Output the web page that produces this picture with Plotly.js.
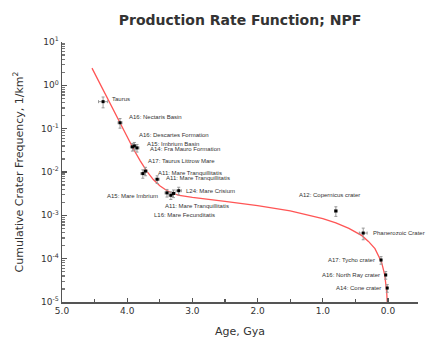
<!DOCTYPE html>
<html>
<head>
<meta charset="utf-8">
<script src="https://cdn.plot.ly/plotly-3.0.1.min.js"></script>
<style>html,body{margin:0;padding:0;background:#fff;}#chart{width:427px;height:342px;}</style>
</head>
<body>
<div id="chart"></div>
<script>
// Sample labels, ages (Gya) and cumulative crater frequencies N(1) (1/km^2)
const sampleNames = ["Taurus", "A16: Nectaris Basin", "A16: Descartes Formation", "A15: Imbrium Basin",
  "A14: Fra Mauro Formation", "A17: Taurus Littrow Mare", "A11: Mare Tranquillitatis", "A11: Mare Tranquillitatis",
  "A15: Mare Imbrium", "A11: Mare Tranquillitatis", "L16: Mare Fecunditatis", "L24: Mare Crisium",
  "A12: Copernicus crater", "Phanerozoic Crater", "A17: Tycho crater", "A16: North Ray crater", "A14: Cone crater"];
const sampleAge = [4.37, 4.11, 3.92, 3.85, 3.89, 3.72, 3.76, 3.54, 3.39, 3.29, 3.33, 3.21, 0.80, 0.38, 0.107, 0.035, 0.012];
const sampleN = [0.42, 0.137, 0.038, 0.036, 0.040, 0.0105, 0.0092, 0.0068, 0.0033, 0.0032, 0.0029, 0.0037,
  0.00126, 0.00039, 9.3e-5, 4.2e-5, 2.1e-5];
const sampleAgeErr = [0.07, 0.03, 0.03, 0.03, 0.03, 0.03, 0.03, 0.03, 0.03, 0.03, 0.03, 0.04, 0.02, 0.06, 0.01, 0.005, 0.005];
const sampleNErrPct = [28, 25, 20, 20, 20, 22, 22, 20, 20, 20, 20, 20, 25, 30, 20, 20, 20];

// Production-rate (NPF) curve
const curveAge = [4.54, 4.4, 4.3, 4.2, 4.1, 4.0, 3.9, 3.8, 3.7, 3.6, 3.5, 3.4, 3.3, 3.2, 3.0, 2.5, 2.0, 1.5,
  1.0, 0.8, 0.6, 0.4, 0.3, 0.2, 0.1, 0.05, 0.02, 0.01];
const curveN = [2.5, 0.956, 0.479, 0.241, 0.122, 0.0629, 0.033, 0.0181, 0.0105, 0.0067, 0.0048, 0.0038, 0.0032,
  0.0029, 0.0026, 0.0021, 0.00168, 0.00126, 0.00084, 0.00067, 0.0005, 0.00034, 0.00025, 0.00017, 8.4e-5, 4.2e-5,
  1.7e-5, 8.4e-6];

// Axis tick values and labels
const xTickVals = [5, 4, 3, 2, 1, 0];
const xTickText = ["5.0", "4.0", "3.0", "2.0", "1.0", "0.0"];
const yTickVals = [1e-5, 1e-4, 1e-3, 1e-2, 1e-1, 1, 10];
const yTickText = ["10<sup>-5</sup>", "10<sup>-4</sup>", "10<sup>-3</sup>", "10<sup>-2</sup>", "10<sup>-1</sup>",
  "10<sup>0</sup>", "10<sup>1</sup>"];

// label placement (pixel offsets from point, anchor)
const labelDx = [7, 7, 5, 8, 14, 1, 13, 7, -7, -10, -19, 5, -6, 8, -4, -4, -4];
const labelDy = [-3, -6, -12, -4, 3, -10, -1, -1, 3, 13, 20, 0, -16, 0, 0, 0, 0];
const labelAnchor = ["left", "left", "left", "left", "left", "left", "left", "left", "right", "left", "left",
  "left", "center", "left", "right", "right", "right"];

const FONT = "DejaVu Sans, Verdana, sans-serif";

const traces = [
  {
    x: curveAge, y: curveN, type: "scatter", mode: "lines",
    line: {color: "#ff5555", width: 1.3}, hoverinfo: "skip", cliponaxis: true
  },
  {
    x: sampleAge, y: sampleN, type: "scatter", mode: "markers",
    marker: {symbol: "square", size: 3, color: "#000"},
    error_x: {type: "data", array: sampleAgeErr, color: "#999", thickness: 1, width: 1.5},
    error_y: {type: "data", symmetric: false,
      array: sampleN.map((v, i) => v * sampleNErrPct[i] / 100),
      arrayminus: sampleN.map((v, i) => v * sampleNErrPct[i] / 100),
      color: "#999", thickness: 1, width: 1.5}
  }
];

const annotations = sampleNames.map((t, i) => ({
  x: sampleAge[i], y: Math.log10(sampleN[i]), xref: "x", yref: "y",
  text: t, showarrow: false, xanchor: labelAnchor[i], yanchor: "middle",
  xshift: labelDx[i], yshift: -labelDy[i],
  font: {family: "Liberation Sans, Arial, sans-serif", size: 6, color: "#333"}
}));

const layout = {
  width: 427, height: 342,
  margin: {l: 62, r: 9, t: 42, b: 40},
  paper_bgcolor: "#fff", plot_bgcolor: "#fff",
  showlegend: false,
  font: {family: FONT, color: "#333"},
  title: {text: "Production Rate Function; NPF", x: 0.562, xanchor: "center", y: 0.94, yanchor: "middle",
    font: {size: 14, color: "#333", family: FONT, weight: 600}},
  xaxis: {
    range: [5.0, -0.46], tickvals: xTickVals, ticktext: xTickText,
    showgrid: false, zeroline: false, showline: true, linecolor: "#555", linewidth: 1.5,
    ticks: "inside", ticklen: 4, tickwidth: 1.2, tickcolor: "#555",
    minor: {tickvals: [4.5, 3.5, 2.5, 1.5, 0.5, -0.5], ticks: "inside", ticklen: 3, tickcolor: "#555"},
    tickfont: {size: 9, color: "#333", family: FONT},
    title: {text: "Age, Gya", font: {size: 11, color: "#333", family: FONT}, standoff: 12}
  },
  yaxis: {
    type: "log", range: [-5, 1], tickvals: yTickVals, ticktext: yTickText,
    showgrid: false, zeroline: false, showline: true, linecolor: "#555", linewidth: 1.5,
    ticks: "inside", ticklen: 5, tickwidth: 1.2, tickcolor: "#555",
    minor: {ticks: "inside", ticklen: 2.5, tickcolor: "#777", showgrid: false, dtick: "D1"},
    tickfont: {size: 9, color: "#333", family: FONT},
    title: {text: "Cumulative Crater Frequency, 1/km<sup>2</sup>", font: {size: 11, color: "#333", family: FONT}, standoff: 15}
  },
  annotations: annotations
};

Plotly.newPlot("chart", traces, layout, {displayModeBar: false, staticPlot: true});
</script>
</body>
</html>
